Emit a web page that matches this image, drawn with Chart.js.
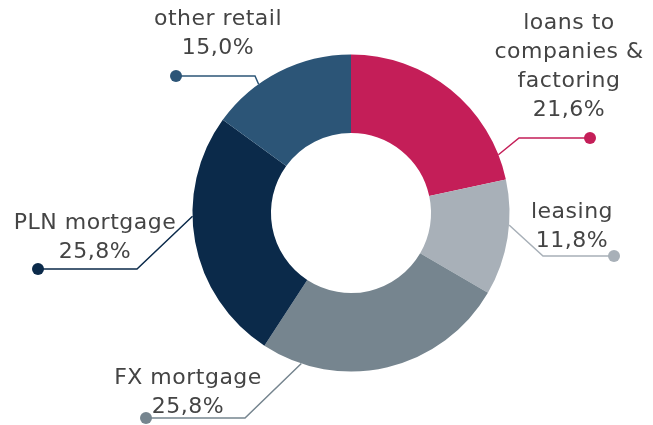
<!DOCTYPE html>
<html>
<head>
<meta charset="utf-8">
<script src="https://cdn.jsdelivr.net/npm/chart.js@4/dist/chart.umd.min.js"></script>
<style>
html,body{margin:0;padding:0;background:#fff;}
#wrap{width:653px;height:425px;position:relative;}
</style>
</head>
<body>
<div id="wrap"><canvas id="c" width="653" height="425"></canvas></div>
<script>
// ---- data ----
const categories = ["loans to companies & factoring", "leasing", "FX mortgage", "PLN mortgage", "other retail"];
const shares = [21.6, 11.8, 25.8, 25.8, 15.0];
const labelLines = [["loans to", "companies &", "factoring"], ["leasing"], ["FX mortgage"], ["PLN mortgage"], ["other retail"]];
const colors = ["#C41E58", "#A8B0B8", "#76858F", "#0B2A4A", "#2C5577"];

// ---- annotation layout (positions only) ----
const layout = [
  {frac: 0.88, elbow: [519, 138], dot: [590, 138], tx: 569, ty: 23},
  {frac: 0.39, elbow: [543, 256], dot: [614, 256], tx: 572, ty: 212},
  {frac: 0.84, elbow: [245, 418], dot: [146, 418], tx: 188, ty: 378},
  {frac: 0.60, elbow: [137, 269], dot: [38, 269], tx: 95, ty: 223},
  {frac: 0.34, elbow: [255, 76], dot: [176, 76], tx: 218, ty: 19}
];
const fontSpec = "22px 'DejaVu Sans', sans-serif";
const lineH = 29;

const fmt = v => v.toFixed(1).replace('.', ',') + '%';

const leaderPlugin = {
  id: 'leaders',
  afterDatasetsDraw(chart) {
    const ctx = chart.ctx;
    const meta = chart.getDatasetMeta(0);
    meta.data.forEach((arc, i) => {
      const L = layout[i];
      const p = arc.getProps(['x','y','startAngle','endAngle','outerRadius'], true);
      const a = p.startAngle + (p.endAngle - p.startAngle) * L.frac;
      const ex = p.x + Math.cos(a) * p.outerRadius;
      const ey = p.y + Math.sin(a) * p.outerRadius;
      ctx.save();
      ctx.strokeStyle = colors[i];
      ctx.lineWidth = 1.5;
      ctx.beginPath();
      ctx.moveTo(ex, ey);
      ctx.lineTo(L.elbow[0], L.elbow[1]);
      ctx.lineTo(L.dot[0], L.dot[1]);
      ctx.stroke();
      ctx.fillStyle = colors[i];
      ctx.beginPath();
      ctx.arc(L.dot[0], L.dot[1], 6, 0, Math.PI * 2);
      ctx.fill();
      // text
      ctx.fillStyle = '#444444';
      ctx.font = fontSpec;
      if ('letterSpacing' in ctx) ctx.letterSpacing = '0.5px';
      ctx.textAlign = 'center';
      ctx.textBaseline = 'middle';
      const lines = labelLines[i].concat([fmt(shares[i])]);
      lines.forEach((t, k) => ctx.fillText(t, L.tx, L.ty + k * lineH));
      ctx.restore();
    });
  }
};

new Chart(document.getElementById('c'), {
  type: 'doughnut',
  data: {
    labels: categories,
    datasets: [{
      data: shares,
      backgroundColor: colors,
      borderWidth: 0,
      hoverOffset: 0
    }]
  },
  options: {
    responsive: false,
    animation: false,
    cutout: '50.5%',
    rotation: 0,
    layout: {padding: {top: 54.5, bottom: 53.5, left: 192.5, right: 143.5}},
    plugins: {legend: {display: false}, tooltip: {enabled: false}}
  },
  plugins: [leaderPlugin]
});
</script>
</body>
</html>
